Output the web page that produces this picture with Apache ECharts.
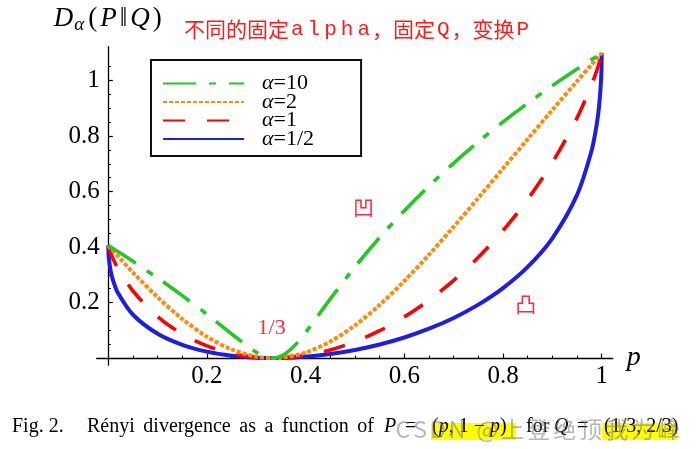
<!DOCTYPE html>
<html><head><meta charset="utf-8">
<script src="https://cdn.jsdelivr.net/npm/echarts@6/dist/echarts.min.js"></script>
<style>html,body{margin:0;padding:0;background:#fff}#c{width:698px;height:449px}</style>
</head><body><div id="c"></div>
<script>
// p grid shared by alpha = 1/2, 1, 2
const pGrid = [0, 0.001, 0.005, 0.01, 0.02, 0.05, 0.1, 0.15, 0.2, 0.25, 0.3, 0.3333, 0.35, 0.4, 0.45, 0.5, 0.55, 0.6, 0.65, 0.7, 0.75, 0.8, 0.85, 0.9, 0.95, 0.98, 0.99, 0.995, 0.999, 1];
const dHalf = [0.4055, 0.3622, 0.3127, 0.2782, 0.2332, 0.1561, 0.0875, 0.0478, 0.0231, 0.0085, 0.0013, 0, 0.0003, 0.0048, 0.0144, 0.0290, 0.0488, 0.0741, 0.1057, 0.1446, 0.1925, 0.2521, 0.3285, 0.4316, 0.5879, 0.7508, 0.8429, 0.9125, 1.0120, 1.0986];
const dOne = [0.4055, 0.3982, 0.3775, 0.3564, 0.3213, 0.2416, 0.1497, 0.0867, 0.0437, 0.0164, 0.0025, 0, 0.0006, 0.0097, 0.0292, 0.0589, 0.0986, 0.1483, 0.2086, 0.2798, 0.3630, 0.4596, 0.5719, 0.7042, 0.8654, 0.9867, 1.0357, 1.0637, 1.0900, 1.0986];
const dTwo = [0.4055, 0.4035, 0.3954, 0.3856, 0.3659, 0.3084, 0.2191, 0.1409, 0.0770, 0.0308, 0.0050, 0, 0.0013, 0.0198, 0.0595, 0.1178, 0.1917, 0.2776, 0.3724, 0.4731, 0.5773, 0.6831, 0.7890, 0.8940, 0.9974, 1.0584, 1.0786, 1.0886, 1.0966, 1.0986];
// alpha = 10
const pTen = [0, 0.005, 0.02, 0.05, 0.1, 0.15, 0.2, 0.25, 0.3, 0.32, 0.3333, 0.34, 0.35, 0.36, 0.38, 0.4, 0.45, 0.5, 0.55, 0.6, 0.65, 0.7, 0.75, 0.8, 0.85, 0.9, 0.95, 0.98, 1];
const dTen = [0.4055, 0.3999, 0.3830, 0.3485, 0.2884, 0.2249, 0.1576, 0.0868, 0.0205, 0.0037, 0, 0.0010, 0.0065, 0.0168, 0.0493, 0.0924, 0.2130, 0.3287, 0.4344, 0.5310, 0.6200, 0.7023, 0.7790, 0.8507, 0.9180, 0.9816, 1.0416, 1.0762, 1.0986];

const seriesNames = ['α=10', 'α=2', 'α=1', 'α=1/2'];
const majorTicks = [0.2, 0.4, 0.6, 0.8, 1];
const xMinorTicks = [0.05, 0.1, 0.15, 0.25, 0.3, 0.35, 0.45, 0.5, 0.55, 0.65, 0.7, 0.75, 0.85, 0.9, 0.95];
const yMinorTicks = [0.05, 0.1, 0.15, 0.25, 0.3, 0.35, 0.45, 0.5, 0.55, 0.65, 0.7, 0.75, 0.85, 0.9, 0.95, 1.05];
const annotTexts = ['凹', '凸', '1/3'];
const annotP = [0.517, 0.846, 0.331];
const annotD = [0.545, 0.195, 0.107];

const SERIF = "'Liberation Serif', 'DejaVu Serif', serif";
const RED = '#ff2a3c';

function pairs(ps, ds) { return ps.map((p, i) => [p, ds[i]]); }
function line(name, ps, ds, color, width, type, z) {
  return {
    type: 'line', name, data: pairs(ps, ds), symbol: 'none', showSymbol: false, smooth: 0.3,
    lineStyle: { color, width, type, cap: 'butt', join: 'round' },
    itemStyle: { color }, emphasis: { disabled: true }, z, clip: false,
    xAxisIndex: 0, yAxisIndex: 0
  };
}

const blue = line('α=1/2', pGrid, dHalf, '#1e1ee0', 4, 'solid', 2);
const red = line('α=1', pGrid, dOne, '#ff0000', 3.6, [22, 22], 3);
const orange = line('α=2', pGrid, dTwo, '#ff8a0a', 4, [4, 2], 4);
const green = line('α=10', pTen, dTen, '#26c626', 3.6, [33, 13, 7, 13], 5);
green.markPoint = {
  symbol: 'rect', symbolSize: 1, itemStyle: { color: 'rgba(0,0,0,0)' },
  label: { show: true, position: 'inside', formatter: '{b}', color: RED },
  data: annotTexts.map((t, i) => ({
    name: t, coord: [annotP[i], annotD[i]],
    label: t === '1/3'
      ? { fontFamily: SERIF, fontSize: 22, color: RED }
      : { fontFamily: "'Noto Sans CJK SC', sans-serif", fontSize: 21, fontWeight: 'normal', color: RED }
  }))
};

const wm = ['C', 'S', 'D', 'N', ' ', '@', '上', '登', '绝', '顶', '我', '为', '峰'];

const chart = echarts.init(document.getElementById('c'), null, { renderer: 'canvas' });
const axisCommonX = { type: 'value', min: -0.0235, max: 1.0223, splitLine: { show: false } };
const axisCommonY = { type: 'value', min: -0.025, max: 1.1218, splitLine: { show: false } };

chart.setOption({
  animation: false,
  backgroundColor: '#fff',
  grid: { left: 96.7, right: 85.3, top: 46.7, bottom: 84, containLabel: false, outerBoundsMode: 'none' },
  title: [{
    left: 179, top: 14,
    text: '{c|不同的固定}{m|a}{m|l}{m|p}{m|h}{m|a}{c|，固定}{m|Q}{c|，变换}{m|P}',
    textStyle: {
      fontWeight: 'normal',
      rich: {
        c: { fontFamily: "'Noto Sans CJK SC', sans-serif", fontSize: 21, color: '#ff1a1a', fontWeight: 'normal' },
        m: { fontFamily: "'Liberation Mono', monospace", fontSize: 21, color: '#ff1a1a', fontWeight: 'normal', padding: [0, 2, 0, 2] }
      }
    }
  }],
  legend: {
    data: seriesNames, orient: 'vertical', left: 151, top: 60,
    itemWidth: 81, itemHeight: 14, itemGap: -3.5,
    padding: [12.5, 47, 6, 11],
    borderColor: '#111', borderWidth: 2, backgroundColor: '#fff',
    selectedMode: false,
    itemStyle: { opacity: 0 },
    formatter: n => '{a|α}{b|' + n.slice(1) + '}',
    textStyle: {
      color: '#000', padding: [0, 0, 0, 13], fontFamily: SERIF, fontSize: 22, lineHeight: 14, height: 14,
      rich: {
        a: { fontFamily: SERIF, fontStyle: 'italic', fontSize: 22, lineHeight: 14, height: 14, color: '#000' },
        b: { fontFamily: SERIF, fontSize: 22, lineHeight: 14, height: 14, color: '#000' }
      }
    }
  },
  xAxis: [Object.assign({}, axisCommonX, {
    position: 'bottom',
    axisLine: { onZero: true, onZeroAxisIndex: 0, lineStyle: { color: '#000', width: 1.3 } },
    axisTick: { show: true, inside: true, length: 4.5, customValues: majorTicks, lineStyle: { color: '#000', width: 1.2 } },
    axisLabel: { customValues: majorTicks, formatter: v => (v === 1 ? '1' : v.toFixed(1)), fontFamily: SERIF, fontSize: 25, color: '#000', margin: -1 },
    name: 'p', nameLocation: 'end', nameGap: 14,
    nameTextStyle: { fontFamily: SERIF, fontStyle: 'italic', fontSize: 28, color: '#000' }
  }), Object.assign({}, axisCommonX, {
    position: 'bottom',
    axisLine: { show: false, onZero: true, onZeroAxisIndex: 0 },
    axisTick: { show: true, inside: true, length: 2.5, customValues: xMinorTicks, lineStyle: { color: '#000', width: 1 } },
    axisLabel: { show: false }
  })],
  yAxis: [Object.assign({}, axisCommonY, {
    position: 'left',
    axisLine: { onZero: true, onZeroAxisIndex: 0, lineStyle: { color: '#000', width: 1.3 } },
    axisTick: { show: true, inside: true, length: 4.5, customValues: majorTicks, lineStyle: { color: '#000', width: 1.2 } },
    axisLabel: { customValues: majorTicks, formatter: v => (v === 1 ? '1' : v.toFixed(1)), fontFamily: SERIF, fontSize: 25, color: '#000', margin: -3 },
    name: '{d|D}{s|α}{n|(}{d|P}{n|‖}{d|Q}{n|)}', nameLocation: 'end', nameGap: 12,
    nameTextStyle: {
      rich: {
        d: { fontFamily: SERIF, fontStyle: 'italic', fontSize: 27, color: '#000', padding: [0, 1, 0, 1] },
        s: { fontFamily: SERIF, fontStyle: 'italic', fontSize: 19, color: '#000', padding: [12, 2, 0, 0] },
        n: { fontFamily: SERIF, fontSize: 27, color: '#000', padding: [0, 2, 0, 2] }
      }
    }
  }), Object.assign({}, axisCommonY, {
    position: 'left',
    axisLine: { show: false, onZero: true, onZeroAxisIndex: 0 },
    axisTick: { show: true, inside: true, length: 2.5, customValues: yMinorTicks, lineStyle: { color: '#000', width: 1 } },
    axisLabel: { show: false }
  })],
  series: [blue, red, orange, green],
  graphic: [
    { type: 'rect', shape: { x: 431, y: 423, width: 85, height: 17 }, style: { fill: '#ffff00' }, z: 1 },
    { type: 'rect', shape: { x: 602, y: 423, width: 75, height: 17 }, style: { fill: '#ffff00' }, z: 1 },
    { type: 'text', x: 12, y: 427, z: 2, style: { text: 'Fig. 2.', font: "20px 'Liberation Serif'", fill: '#000', verticalAlign: 'middle' } },
    { type: 'text', x: 87, y: 427, z: 2, style: {
      text: '{w|Rényi}{s|}{w|divergence}{s|}{w|as}{s|}{w|a}{s|}{w|function}{s|}{w|of}', verticalAlign: 'middle',
      rich: { w: { font: "20px 'Liberation Serif'", fill: '#000' }, s: { width: 8.6, font: "20px 'Liberation Serif'" } } } },
    { type: 'text', x: 384, y: 427, z: 2, style: { text: 'P', font: "italic 20px 'Liberation Serif'", fill: '#000', verticalAlign: 'middle' } },
    { type: 'text', x: 405, y: 427, z: 2, style: { text: '=', font: "20px 'Liberation Serif'", fill: '#000', verticalAlign: 'middle' } },
    { type: 'text', x: 432, y: 427, z: 2, style: {
      text: '{r|(}{i|p}{r|, 1 − }{i|p}{r|)}', verticalAlign: 'middle',
      rich: { r: { font: "20px 'Liberation Serif'", fill: '#000' }, i: { font: "italic 20px 'Liberation Serif'", fill: '#000' } } } },
    { type: 'text', x: 526, y: 427, z: 2, style: { text: 'for', font: "20px 'Liberation Serif'", fill: '#000', verticalAlign: 'middle' } },
    { type: 'text', x: 554, y: 427, z: 2, style: { text: 'Q', font: "italic 20px 'Liberation Serif'", fill: '#000', verticalAlign: 'middle' } },
    { type: 'text', x: 577, y: 427, z: 2, style: { text: '=', font: "20px 'Liberation Serif'", fill: '#000', verticalAlign: 'middle' } },
    { type: 'text', x: 604, y: 427, z: 2, style: { text: '(1/3, 2/3)', font: "20px 'Liberation Serif'", fill: '#000', verticalAlign: 'middle' } },
    { type: 'text', x: 394, y: 429, z: 3, style: {
      text: wm.map(ch => '{w|' + ch + '}').join(''), verticalAlign: 'middle',
      rich: { w: { font: "23px 'Noto Sans CJK SC'", fill: 'rgba(120,120,120,0.55)', padding: [0, 1.5, 0, 1.5] } } } }
  ]
});
</script>
</body></html>
